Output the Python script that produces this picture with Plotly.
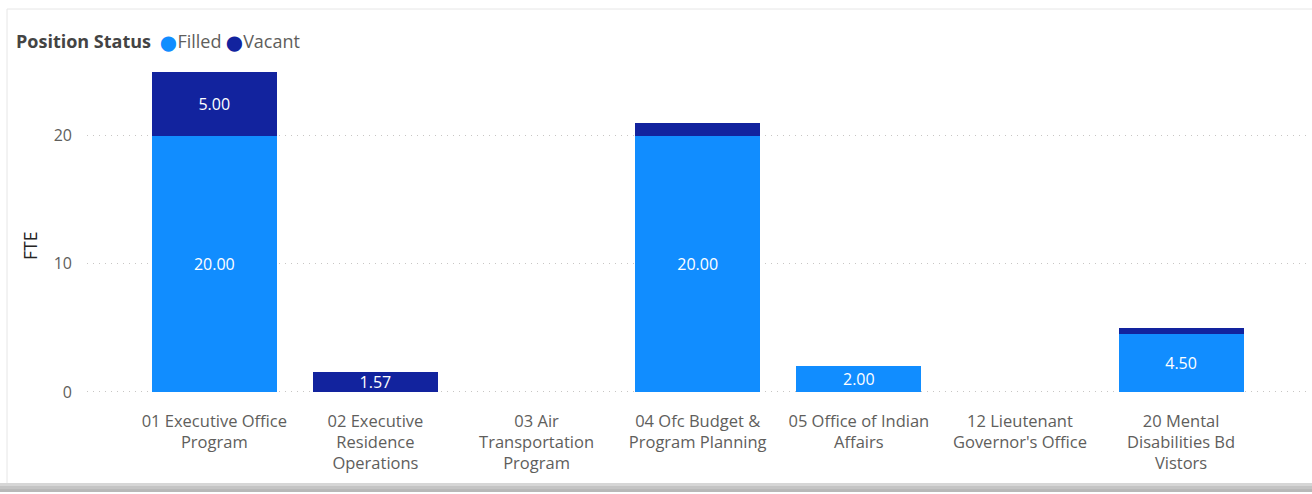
import plotly.graph_objects as go

# Position status by program (FTE)
categories = [
    "01 Executive Office<br>Program",
    "02 Executive<br>Residence<br>Operations",
    "03 Air<br>Transportation<br>Program",
    "04 Ofc Budget &amp;<br>Program Planning",
    "05 Office of Indian<br>Affairs",
    "12 Lieutenant<br>Governor's Office",
    "20 Mental<br>Disabilities Bd<br>Vistors",
]
filled = [20.00, None, None, 20.00, 2.00, None, 4.50]
vacant = [5.00, 1.57, None, 1.00, None, None, 0.50]
y_ticks = [0, 10, 20]

series_names = ["Filled", "Vacant"]
series_colors = ["#118DFF", "#12239E"]

FONT = "Open Sans"
W, H = 1312, 494
ML, MR, MT, MB = 87, 2, 64, 101
PW, PH = W - ML - MR, H - MT - MB
Y_MIN, Y_MAX = -0.08, 25.6


def px_x(px):
    return (px - ML) / PW


def px_y(py):
    return (H - MB - py) / PH


def label_text(vals, min_show):
    return [f"{v:.2f}" if (v is not None and v >= min_show) else "" for v in vals]


fig = go.Figure()
for name, vals, color in zip(series_names, [filled, vacant], series_colors):
    fig.add_trace(go.Bar(
        x=list(range(len(categories))),
        y=vals,
        name=name,
        marker=dict(color=color, line=dict(width=0)),
        width=0.776,
        text=label_text(vals, 1.5),
        textposition="inside",
        insidetextanchor="middle",
        constraintext="none",
        textfont=dict(family=FONT, size=16, color="#FFFFFF"),
        showlegend=False,
        hoverinfo="skip",
    ))

fig.update_layout(
    barmode="stack",
    width=W, height=H,
    margin=dict(l=ML, r=MR, t=MT, b=MB),
    paper_bgcolor="#FFFFFF",
    plot_bgcolor="#FFFFFF",
    font=dict(family=FONT, color="#605E5C"),
    xaxis=dict(
        tickmode="array",
        tickvals=list(range(len(categories))),
        ticktext=categories,
        range=[-0.79, 6.80],
        showgrid=False, zeroline=False, showline=False,
        ticks="", ticklabelstandoff=16,
        tickfont=dict(family=FONT, size=16.5, color="#605E5C"),
    ),
    yaxis=dict(
        range=[Y_MIN, Y_MAX],
        tickmode="array", tickvals=y_ticks,
        showgrid=True, gridcolor="#C8C6C4", griddash="1px,5px", gridwidth=1.2,
        zeroline=False, showline=False,
        ticks="", ticklabelstandoff=14,
        tickfont=dict(family=FONT, size=16, color="#605E5C"),
    ),
)

# y-axis title
fig.add_annotation(
    text="FTE", textangle=-90,
    xref="paper", yref="paper", x=px_x(30), y=px_y(246),
    xanchor="center", yanchor="middle", showarrow=False,
    font=dict(family=FONT, size=17.5, color="#252423"),
)

# legend row with round markers
legend_html = "<b>Position Status</b>  " + " ".join(
    f"<span style='color:{c};font-size:15px'>⬤</span><span style='color:#605E5C'>{n}</span>"
    for n, c in zip(series_names, series_colors)
)
fig.add_annotation(
    text=legend_html,
    xref="paper", yref="paper", x=px_x(14), y=px_y(41),
    xanchor="left", yanchor="middle", showarrow=False,
    font=dict(family=FONT, size=18, color="#444444"),
)

# visual frame and bottom shadow
fig.add_shape(type="rect", xref="paper", yref="paper",
              x0=px_x(7), x1=px_x(1330), y0=px_y(485), y1=px_y(9),
              line=dict(color="#E6E6E6", width=1), fillcolor="rgba(0,0,0,0)", layer="below")
for i, c in enumerate(["#D6D6D6", "#C4C4C4", "#B8B8B8"]):
    fig.add_shape(type="rect", xref="paper", yref="paper",
                  x0=px_x(0), x1=px_x(1330), y0=px_y(486 + 3 * i), y1=px_y(483 + 3 * i),
                  line=dict(width=0), fillcolor=c, layer="above")

fig.write_html("out.html")
